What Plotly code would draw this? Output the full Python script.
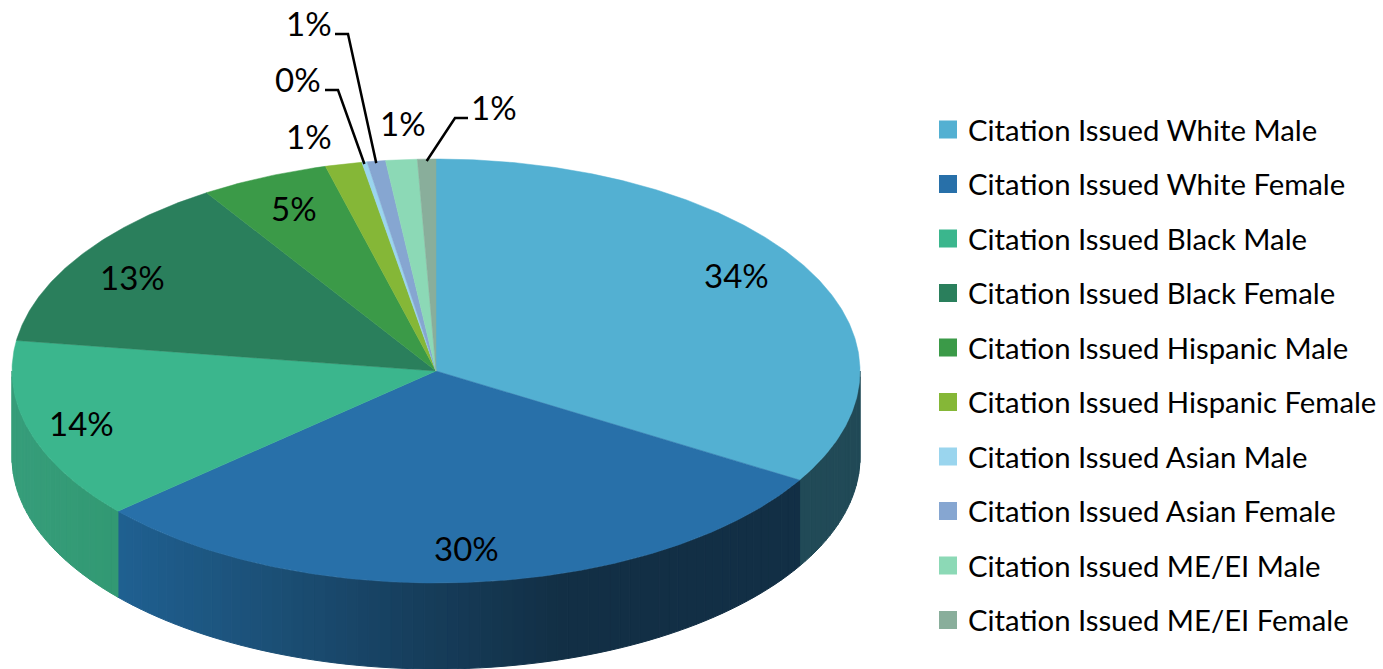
import math
import plotly.graph_objects as go

categories = ["Citation Issued White Male", "Citation Issued White Female", "Citation Issued Black Male",
              "Citation Issued Black Female", "Citation Issued Hispanic Male", "Citation Issued Hispanic Female",
              "Citation Issued Asian Male", "Citation Issued Asian Female", "Citation Issued ME/EI Male",
              "Citation Issued ME/EI Female"]
values = [33.6, 29.9, 13.8, 13.6, 4.9, 1.4, 0.2, 0.7, 1.2, 0.7]
shown_labels = ["34%", "30%", "14%", "13%", "5%", "1%", "0%", "1%", "1%", "1%"]
colors = ["#53B0D2", "#2870A9", "#3BB68D", "#2A7F5C", "#3B9A48", "#85B737", "#9AD5EE", "#86A6D1", "#8CD9B6", "#89AE9B"]

W, H = 1383, 669
CX, CY, RX, RY, DEPTH = 436, 371, 424, 212, 86
FONT = "Lato"

def rim(a, dy=0):
    t = math.radians(a)
    return CX + RX * math.sin(t), CY - RY * math.cos(t) + dy

def lerp(c1, c2, f):
    return "rgb(%d,%d,%d)" % tuple(round(c1[i] + (c2[i] - c1[i]) * f) for i in range(3))

# horizontal shading of the wall: (x position, colour) stops per visible slice
wall_stops = {
    0: [(800, (33, 74, 87)), (860, (33, 74, 87))],
    1: [(117, (31, 96, 145)), (250, (28, 82, 122)), (400, (23, 64, 95)), (560, (18, 47, 69)), (800, (18, 47, 69))],
    2: [(12, (54, 157, 122)), (117, (50, 153, 115))],
}

def wall_color(i, x):
    st = wall_stops[i]
    if x <= st[0][0]:
        return lerp(st[0][1], st[0][1], 0)
    for (x0, c0), (x1, c1) in zip(st, st[1:]):
        if x <= x1:
            return lerp(c0, c1, (x - x0) / (x1 - x0))
    return lerp(st[-1][1], st[-1][1], 0)

fig = go.Figure()

# slice angles, clockwise from 12 o'clock
total = sum(values)
ang = [0]
for v in values:
    ang.append(ang[-1] + v / total * 360)

# side wall strips
for i in range(len(values)):
    a0, a1 = max(ang[i], 90), min(ang[i + 1], 270)
    if a1 <= a0:
        continue
    n = max(2, int((a1 - a0) / 1.5))
    for k in range(n):
        s0 = a0 + (a1 - a0) * k / n
        s1 = a0 + (a1 - a0) * (k + 1) / n
        pts = [s0 + (s1 - s0) * j / 3 for j in range(4)]
        top = [rim(p) for p in pts]
        bot = [rim(p, DEPTH) for p in reversed(pts)]
        xs = [p[0] for p in top + bot] + [top[0][0]]
        ys = [p[1] for p in top + bot] + [top[0][1]]
        c = wall_color(i, (top[0][0] + top[-1][0]) / 2)
        fig.add_trace(go.Scatter(x=xs, y=ys, mode="lines", fill="toself", fillcolor=c,
                                 line=dict(color=c, width=1), hoverinfo="skip", showlegend=False))

# top face slices
for i, (name, col) in enumerate(zip(categories, colors)):
    n = max(2, int((ang[i + 1] - ang[i]) / 0.5))
    arc = [rim(ang[i] + (ang[i + 1] - ang[i]) * k / n) for k in range(n + 1)]
    xs = [CX] + [p[0] for p in arc] + [CX]
    ys = [CY] + [p[1] for p in arc] + [CY]
    fig.add_trace(go.Scatter(x=xs, y=ys, mode="lines", fill="toself", fillcolor=col,
                             line=dict(color=col, width=0.5), name=name, hoverinfo="text",
                             text="%s: %s" % (name, shown_labels[i]), showlegend=False))

# legend entries
for name, col in zip(categories, colors):
    fig.add_trace(go.Scatter(x=[None], y=[None], mode="markers", name=name, legendgroup=name,
                             marker=dict(symbol="square", size=16, color=col, line=dict(color=col, width=2))))

# data labels: label centre, and optional leader elbow
label_centres = [(736, 275), (466, 548), (81, 423), (132, 277), (294, 208), (309, 136), (298, 79), (309, 23), (403, 123), (494, 107)]
leader_elbows = {6: [(325, 90), (338, 90)], 7: [(335, 34), (348, 34)], 9: [(468, 118), (455, 118)]}
for i, (txt, (x, y)) in enumerate(zip(shown_labels, label_centres)):
    fig.add_annotation(x=x, y=y, text=txt, showarrow=False, xanchor="center", yanchor="middle",
                       font=dict(family=FONT, size=33, color="#000000"))
    if i in leader_elbows:
        mid = (ang[i] + ang[i + 1]) / 2
        end = rim(mid, 2)
        pts = leader_elbows[i] + [end]
        fig.add_trace(go.Scatter(x=[p[0] for p in pts], y=[p[1] for p in pts], mode="lines",
                                 line=dict(color="#000000", width=2.5), hoverinfo="skip", showlegend=False))

fig.update_layout(
    width=W, height=H, autosize=False, margin=dict(l=0, r=0, t=0, b=0, autoexpand=False),
    paper_bgcolor="white", plot_bgcolor="white",
    xaxis=dict(range=[0, W], visible=False, fixedrange=True),
    yaxis=dict(range=[H, 0], visible=False, fixedrange=True),
    font=dict(family=FONT, color="#000000"),
    legend=dict(x=928 / W, y=1 - 104 / H, xanchor="left", yanchor="top", tracegroupgap=13.4,
                itemsizing="trace", font=dict(family=FONT, size=29.3, color="#000000"),
                bgcolor="rgba(0,0,0,0)", borderwidth=0),
)
fig.write_html("out.html", config={"displayModeBar": False},
               post_script="document.body.style.margin='0';document.body.style.overflow='hidden';")
